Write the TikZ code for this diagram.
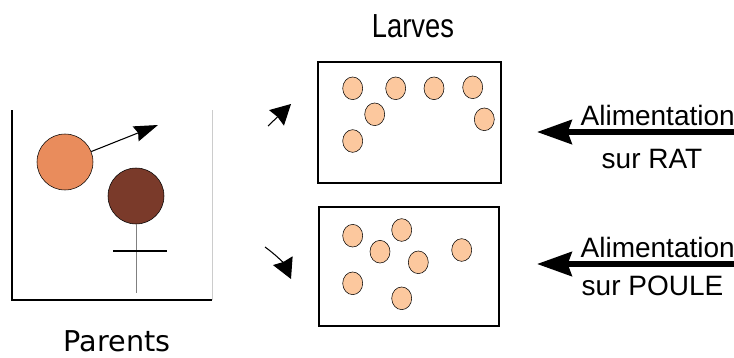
\documentclass[tikz,border=0pt]{standalone}
\usepackage{fontspec}
\setmainfont{Liberation Sans}
\newfontfamily\parentsfont{DejaVu Sans}
\usetikzlibrary{arrows.meta,shapes.geometric}
\definecolor{parentorange}{RGB}{233,140,92}
\definecolor{parentbrown}{RGB}{122,58,42}
\definecolor{larvapeach}{RGB}{252,200,158}
\begin{document}
\begin{tikzpicture}[
    x=0.75pt, y=-0.75pt,
    larva/.style={draw, thin, fill=larvapeach, ellipse, minimum width=15pt, minimum height=17pt, inner sep=0pt},
    adult/.style={draw, thin, circle, minimum size=42pt, inner sep=0pt},
    cage/.style={draw, line width=0.9pt, rectangle, inner sep=0pt},
    feed/.style={line width=4.3pt, -{Stealth[length=26pt,width=18pt,inset=3pt]}},
    feedtext/.style={font=\fontsize{21}{23}\selectfont, inner sep=0pt},
    spawn/.style={thick, -{Stealth[length=15pt,width=16pt,inset=1pt]}}
]
    \useasboundingbox (0,0) rectangle (734,357);

    % Parents frame
    \draw[line width=0.8pt] (12,110) -- (12,300) -- (212,300);
    \draw[gray!40] (212,300) -- (212,110);

    % Parents
    \node[adult, fill=parentorange] (male) at (65,162) {};
    \node[adult, fill=parentbrown] (female) at (136,196) {};
    \coordinate (stemend) at (136,293);
    \coordinate (barl) at (113,251);
    \coordinate (barr) at (167,251);
    \draw[gray, line width=0.7pt] (female) -- (stemend);
    \draw[line width=0.9pt] (barl) -- (barr);
    \coordinate (maletip) at (158,125);
    \draw[thick, -{Stealth[length=18pt,width=12pt,inset=2pt]}] (male) -- (maletip);
    \node[font=\parentsfont\fontsize{21.5}{24}\selectfont, anchor=base, inner sep=0pt] (parents) at (117,351) {Parents};

    % Larvae boxes
    \node[cage, minimum width=137.25pt, minimum height=90.75pt] (rat) at (409.5,122.5) {};
    \node[cage, minimum width=135pt, minimum height=89.25pt] (poule) at (409,266.5) {};
    \node[font=\fontsize{25}{27}\selectfont, inner sep=0pt, anchor=base] (larves) at (413,37) {\scalebox{0.82}[1]{Larves}};

    % Larvae fed on rat
    \foreach \x/\y in {352.7/88.3, 395.7/88.3, 434/88.3, 472.7/87.3, 374.7/114.3, 484.3/119.3, 352.7/141}
        \node[larva] at (\x,\y) {};
    % Larvae fed on hen
    \foreach \x/\y in {352.7/235.7, 401.7/230, 380/251.7, 418.3/262.3, 461.7/250, 352.7/283.3, 401.7/298.3}
        \node[larva] at (\x,\y) {};

    % Arrows towards the boxes
    \coordinate (tailA) at (268,126);
    \coordinate (tipA) at (291,104);
    \draw[spawn] (tailA) -- (tipA);
    \coordinate (tailB) at (265,247);
    \coordinate (tipB) at (291,279);
    \draw[spawn] (tailB) to[bend left=15] (tipB);

    % Feeding
    \coordinate (ratstart) at (736,132);
    \coordinate (rattip) at (537,132);
    \draw[feed] (ratstart) -- (rattip);
    \node[feedtext, anchor=base east] (ratA) at (735,125) {Alimentation};
    \node[feedtext, anchor=base] (ratB) at (652,168) {sur RAT};

    \coordinate (poulestart) at (736,264);
    \coordinate (pouletip) at (537,264);
    \draw[feed] (poulestart) -- (pouletip);
    \node[feedtext, anchor=base east] (pouleA) at (735,257) {Alimentation};
    \node[feedtext, anchor=base] (pouleB) at (652.5,295) {sur POULE};
\end{tikzpicture}
\end{document}
